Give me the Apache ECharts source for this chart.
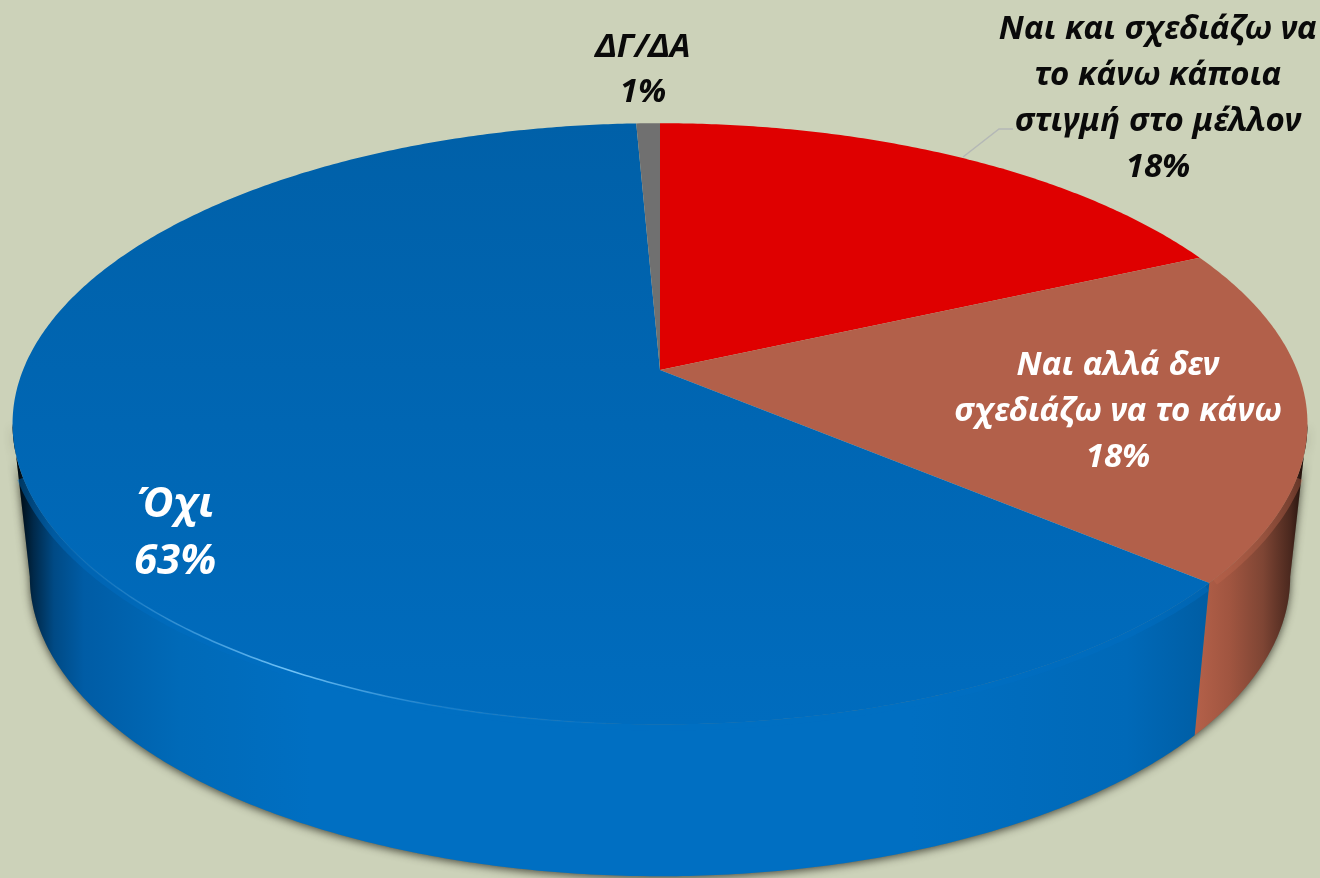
<!DOCTYPE html>
<html>
<head>
<meta charset="utf-8">
<title>Pie</title>
<style>
  html, body { margin: 0; padding: 0; background: #ccd2b9; }
  #chart { width: 1320px; height: 878px; }
</style>
<script src="https://cdn.jsdelivr.net/npm/echarts@6/dist/echarts.min.js"></script>
</head>
<body>
<div id="chart"></div>
<script>
const categories = ['Ναι και σχεδιάζω να\nτο κάνω κάποια\nστιγμή στο μέλλον', 'Ναι αλλά δεν\nσχεδιάζω να το κάνω', 'Όχι', 'ΔΓ/ΔΑ'];
const values = [18.2, 18.0, 63.1, 0.7];

// perspective of the tilted disc: top face and bottom face of the cake
const K = 0.179;
const CX = 660;
const TOP = { cy: 370, rx: 637, ry: 291 };
const BOTTOM = { cy: 523, rx: 620, ry: 290 };
// the side wall is visible between these two angles (where the outline turns)
const WALL_FROM = Math.acos(-K) * 180 / Math.PI;
const WALL_TO = 360 - WALL_FROM;

const total = values.reduce((a, b) => a + b, 0);
const starts = values.map((_, i) => values.slice(0, i).reduce((a, b) => a + b, 0) / total * 360);

function project(deg, face) {
  const t = deg * Math.PI / 180;
  const w = 1 + K * Math.cos(t);
  return [CX + face.rx * Math.sin(t) / w, face.cy - face.ry * Math.cos(t) / w];
}

function arc(from, to, face) {
  const pts = [];
  const n = Math.max(2, Math.ceil(Math.abs(to - from) * 2));
  for (let i = 0; i <= n; i++) {
    pts.push(project(from + (to - from) * i / n, face));
  }
  return pts;
}

function vgrad(y, y2, c1, c2) {
  return { type: 'linear', global: true, x: 0, y: y, x2: 0, y2: y2,
    colorStops: [{ offset: 0, color: c1 }, { offset: 1, color: c2 }] };
}
function hgrad(x, x2, stops) {
  return { type: 'linear', global: true, x: x, y: 0, x2: x2, y2: 0,
    colorStops: stops.map(s => ({ offset: s[0], color: s[1] })) };
}

const topFill = [
  '#df0000',
  '#b2604a',
  vgrad(123, 725, '#0060a8', '#006cbe'),
  '#707070'
];
const wallFill = [
  '#df0000',
  hgrad(1197, 1307, [[0, '#b36049'], [0.3, '#a05540'], [0.6, '#7e4534'], [0.85, '#4a281e'], [1, '#150a06']]),
  hgrad(12, 1210, [[0, '#000000'], [0.008, '#00101c'], [0.018, '#00294a'], [0.035, '#004a85'], [0.06, '#005ca5'], [0.14, '#006ab8'],
    [0.25, '#006fc2'], [0.75, '#006fc2'], [0.93, '#0069b8'], [1, '#005da3']]),
  '#707070'
];
const rimColor = ['#df0000', 'rgba(190,102,78,0.4)', 'rgba(0,110,195,0.45)', '#707070'];
const labelStyle = [
  { x: 1158, y: 99, fill: '#0a0a0a', font: 'italic bold 33px "Noto Sans"', lineHeight: 46 },
  { x: 1118, y: 412, fill: '#ffffff', font: 'italic bold 33px "Noto Sans"', lineHeight: 46 },
  { x: 175, y: 534, fill: '#ffffff', font: 'italic bold 42px "Noto Sans"', lineHeight: 57 },
  { x: 643, y: 70, fill: '#0a0a0a', font: 'italic bold 33px "Noto Sans"', lineHeight: 45 }
];

function polygon(points, style, z2) {
  return { type: 'polygon', shape: { points: points }, style: style, z2: z2 || 0, silent: true };
}

// soft shadow under the cake
function renderShadow(params) {
  if (params.dataIndex !== 0) return null;
  const outline = arc(WALL_TO, WALL_FROM, BOTTOM).concat(arc(WALL_FROM, WALL_TO, TOP));
  return polygon(outline, {
    fill: '#6f7260', shadowColor: 'rgba(40,40,30,0.8)', shadowBlur: 8, shadowOffsetX: 0, shadowOffsetY: 2
  });
}

function renderWall(params, api) {
  const i = params.dataIndex;
  const from = Math.max(starts[i], WALL_FROM);
  const to = Math.min(starts[i] + api.value(0) / total * 360, WALL_TO);
  if (to <= from) return null;
  const pts = arc(from, to, TOP).concat(arc(to, from, BOTTOM));
  // soft bevel where the wall meets the top face, stopped short of the outline
  const rim = arc(Math.max(from + 0.6, WALL_FROM + 10), Math.min(to - 0.6, WALL_TO - 10), TOP);
  return {
    type: 'group',
    children: [
      polygon(pts, { fill: wallFill[i] }),
      { type: 'polyline', silent: true, z2: 1, shape: { points: rim },
        style: { fill: null, stroke: rimColor[i], lineWidth: 12, lineCap: 'butt' } }
    ]
  };
}

function renderTop(params, api) {
  const i = params.dataIndex;
  const v = api.value(0);
  const pts = [[CX, TOP.cy]].concat(arc(starts[i], starts[i] + v / total * 360, TOP));
  const children = [polygon(pts, { fill: topFill[i] })];
  const st = labelStyle[i];
  children.push({
    type: 'text', silent: true, z2: 10,
    style: {
      text: api.value(1) + '\n' + Math.round(v) + '%',
      x: st.x, y: st.y, fill: st.fill, font: st.font, lineHeight: st.lineHeight,
      align: 'center', verticalAlign: 'middle'
    }
  });
  if (i === 0) {
    // leader line of the first label
    children.push({
      type: 'polyline', silent: true,
      shape: { points: [[963, 157], [999, 129], [1013, 129]] },
      style: { stroke: '#b4b8b6', lineWidth: 1.5, fill: null }
    });
  }
  if (i === 2) {
    // light catching the rim of the blue slice
    children.push({
      type: 'polyline', silent: true, z2: 2,
      shape: { points: arc(184, 252, TOP) },
      style: { fill: null, lineWidth: 1.6, stroke: hgrad(60, 640, [
        [0, 'rgba(70,165,235,0)'], [0.12, 'rgba(70,165,235,0.3)'], [0.4, 'rgba(120,200,250,0.95)'],
        [0.65, 'rgba(70,165,235,0.3)'], [1, 'rgba(70,165,235,0)']]) }
    });
  }
  return { type: 'group', children: children };
}

const rows = values.map((v, i) => [v, categories[i]]);
const chart = echarts.init(document.getElementById('chart'));
chart.setOption({
  backgroundColor: '#ccd2b9',
  animation: false,
  series: [
    { type: 'custom', coordinateSystem: 'none', data: rows, z: 1, renderItem: renderShadow, clip: false },
    { type: 'custom', coordinateSystem: 'none', data: rows, z: 2, renderItem: renderWall, clip: false },
    { type: 'custom', coordinateSystem: 'none', data: rows, z: 3, renderItem: renderTop, clip: false,
      encode: { itemName: 1 } }
  ]
});
</script>
</body>
</html>
